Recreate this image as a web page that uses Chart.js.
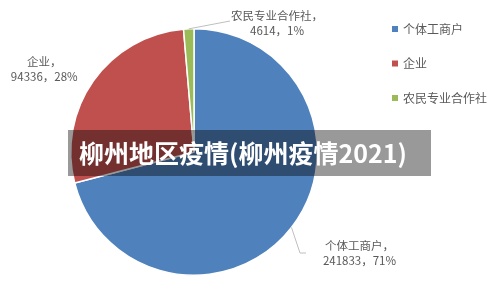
<!DOCTYPE html>
<html>
<head>
<meta charset="utf-8">
<script src="https://cdn.jsdelivr.net/npm/chart.js@4.4.0/dist/chart.umd.min.js"></script>
<style>
  html, body { margin: 0; padding: 0; background: #fff; }
  #wrap { position: relative; width: 500px; height: 307px; }
  #banner {
    position: absolute; left: 68px; top: 130px; width: 363px; height: 46px;
    background: rgba(0, 0, 0, 0.4);
    color: #fff; font: bold 25px "Noto Sans CJK SC", sans-serif;
    line-height: 44px; padding-left: 11px; box-sizing: border-box; white-space: nowrap;
  }
</style>
</head>
<body>
<div id="wrap">
  <canvas id="c" width="500" height="307"></canvas>
  <div id="banner">柳州地区疫情(柳州疫情2021)</div>
</div>
<script>
// ---------------------------------------------------------------------------
// Data
// ---------------------------------------------------------------------------
const categories = ['个体工商户', '企业', '农民专业合作社'];
const counts = [241833, 94336, 4614];
const percents = ['71%', '28%', '1%'];
const colors = ['#4F81BD', '#C0504D', '#9BBB59'];

// label anchor (left edge of text, first line baseline) and leader line bends
const labelSpots = [
  { x: 325, y: 250, lead: [[300, 253], [306, 253]] },
  { x: 27, y: 66, lead: null },
  { x: 231, y: 20, lead: [[230, 21]] },
];

const FONT = '"Noto Sans CJK SC", "Noto Sans", sans-serif';
const TEXT = '#595959';

// ---------------------------------------------------------------------------
// Plugins: data labels with leader lines, plus right-hand legend
// ---------------------------------------------------------------------------
const pieLabels = {
  id: 'pieLabels',
  afterDraw(chart) {
    const ctx = chart.ctx;
    const meta = chart.getDatasetMeta(0);
    ctx.save();
    ctx.font = '11.5px ' + FONT;
    ctx.fillStyle = TEXT;
    ctx.textBaseline = 'alphabetic';
    meta.data.forEach((arc, i) => {
      const spot = labelSpots[i];
      const mid = (arc.startAngle + arc.endAngle) / 2;
      const ox = arc.x + Math.cos(mid) * arc.outerRadius;
      const oy = arc.y + Math.sin(mid) * arc.outerRadius;
      if (spot.lead) {
        ctx.strokeStyle = '#bfbfbf';
        ctx.lineWidth = 1;
        ctx.beginPath();
        ctx.moveTo(ox, oy);
        spot.lead.forEach(p => ctx.lineTo(p[0], p[1]));
        ctx.stroke();
      }
      const l1 = categories[i] + '，';
      const l2 = counts[i] + '，' + percents[i];
      ctx.textAlign = 'left';
      ctx.fillText(l1, spot.x, spot.y);
      const w1 = ctx.measureText(l1).width;
      const w2 = ctx.measureText(l2).width;
      ctx.fillText(l2, spot.x + (w1 - w2) / 2, spot.y + 15);
    });

    // legend
    ctx.font = '12px ' + FONT;
    ctx.textBaseline = 'middle';
    categories.forEach((name, i) => {
      const y = 29 + i * 34.5;
      ctx.fillStyle = colors[i];
      ctx.fillRect(392, y - 3, 6, 6);
      ctx.fillStyle = TEXT;
      ctx.fillText(name, 403, y);
    });
    ctx.restore();
  },
};

new Chart(document.getElementById('c'), {
  type: 'pie',
  data: {
    labels: categories,
    datasets: [{
      data: counts,
      backgroundColor: colors,
      borderColor: '#ffffff',
      borderWidth: 1.5,
    }],
  },
  options: {
    responsive: false,
    animation: false,
    layout: { padding: { left: 70, right: 182, top: 28, bottom: 31 } },
    plugins: {
      legend: { display: false },
      tooltip: { enabled: false },
    },
  },
  plugins: [pieLabels],
});
</script>
</body>
</html>
